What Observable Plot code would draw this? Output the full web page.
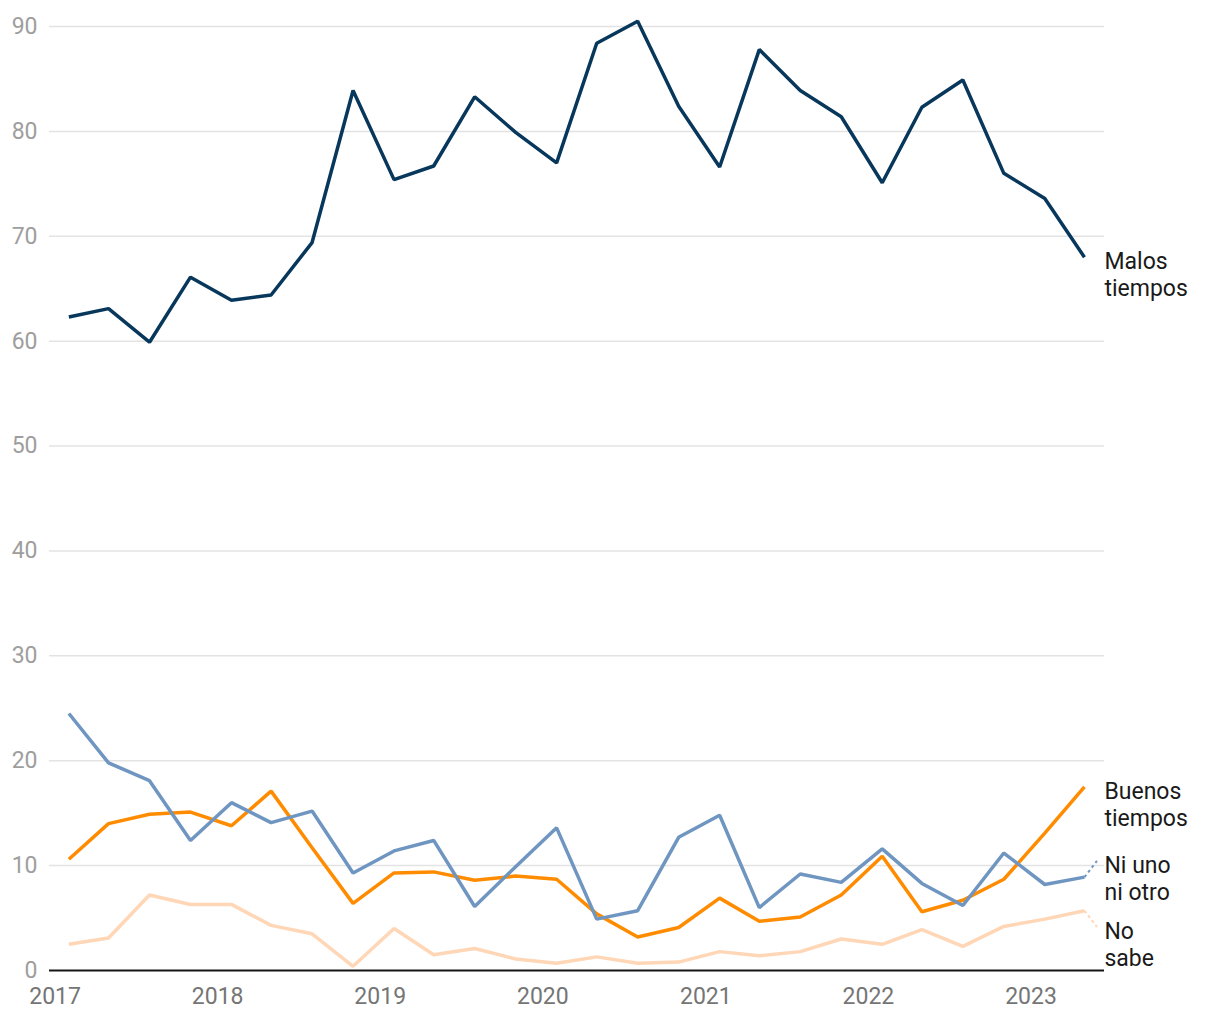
<!DOCTYPE html>
<html>
<head>
<meta charset="utf-8">
<script src="https://cdn.jsdelivr.net/npm/d3@7"></script>
<script src="https://cdn.jsdelivr.net/npm/@observablehq/plot@0.6"></script>
<style>
  html, body { margin: 0; padding: 0; background: #fff; }
  #chart svg { display: block; }
</style>
</head>
<body>
<div id="chart"></div>
<script>
// Fechas de las encuestas (trimestrales)
const fechas = [
  "2017-02-01","2017-05-01","2017-08-01","2017-11-01",
  "2018-02-01","2018-05-01","2018-08-01","2018-11-01",
  "2019-02-01","2019-05-01","2019-08-01","2019-11-01",
  "2020-02-01","2020-05-01","2020-08-01","2020-11-01",
  "2021-02-01","2021-05-01","2021-08-01","2021-11-01",
  "2022-02-01","2022-05-01","2022-08-01","2022-11-01",
  "2023-02-01","2023-05-01"
];

const malosTiempos = [62.3, 63.1, 59.9, 66.1, 63.9, 64.4, 69.4, 83.9, 75.4, 76.7, 83.3, 79.9, 77.0,
                      88.4, 90.5, 82.4, 76.6, 87.8, 83.9, 81.4, 75.1, 82.3, 84.9, 76.0, 73.6, 68.0];
const buenosTiempos = [10.6, 14.0, 14.9, 15.1, 13.8, 17.1, 11.7, 6.4, 9.3, 9.4, 8.6, 9.0, 8.7,
                       5.4, 3.2, 4.1, 6.9, 4.7, 5.1, 7.2, 10.9, 5.6, 6.7, 8.7, 13.1, 17.5];
const niUnoNiOtro = [24.5, 19.8, 18.1, 12.4, 16.0, 14.1, 15.2, 9.3, 11.4, 12.4, 6.1, 9.9, 13.6,
                     4.9, 5.7, 12.7, 14.8, 6.0, 9.2, 8.4, 11.6, 8.3, 6.2, 11.2, 8.2, 8.9];
const noSabe = [2.5, 3.1, 7.2, 6.3, 6.3, 4.3, 3.5, 0.4, 4.0, 1.5, 2.1, 1.1, 0.7,
                1.3, 0.7, 0.8, 1.8, 1.4, 1.8, 3.0, 2.5, 3.9, 2.3, 4.2, 4.9, 5.7];

// Orden de dibujo: de abajo hacia arriba
const nombres = ["No sabe", "Buenos tiempos", "Ni uno ni otro", "Malos tiempos"];
const etiquetas = ["No\nsabe", "Buenos\ntiempos", "Ni uno\nni otro", "Malos\ntiempos"];
const valoresPorSerie = [noSabe, buenosTiempos, niUnoNiOtro, malosTiempos];
const colores = ["#ffd6b6", "#ff8c00", "#6f95c1", "#08375c"];
const yTicks = [0, 10, 20, 30, 40, 50, 60, 70, 80, 90];

// Tabla larga
const filas = [];
nombres.forEach((n, s) => {
  valoresPorSerie[s].forEach((v, i) => {
    filas.push({ serie: n, fecha: new Date(fechas[i]), valor: v });
  });
});

const W = 1220, H = 1020;
const mTop = 26, mBottom = 50, mLeft = 49, mRight = 116;
const yDomain = [0, 90];
const xDomain = [new Date("2016-12-19T12:00:00Z"), new Date("2023-06-15T00:00:00Z")];

// Etiquetas finales con separación mínima
const yScale = Plot.scale({ y: { domain: yDomain, range: [H - mBottom, mTop] } });
const ultimaFecha = new Date(fechas[fechas.length - 1]);
const finales = nombres.map((n, s) => {
  const v = valoresPorSerie[s][valoresPorSerie[s].length - 1];
  return { serie: n, label: etiquetas[s], fecha: ultimaFecha, valor: v, py: yScale.apply(v), py0: yScale.apply(v) };
});
const orden = finales.slice().sort((a, b) => a.py - b.py);
const gapMin = 66;
for (let it = 0; it < 100; it++) {
  for (let k = 0; k < orden.length - 1; k++) {
    const a = orden[k], b = orden[k + 1];
    const d = b.py - a.py;
    if (d < gapMin) {
      const m = (gapMin - d) / 2;
      a.py -= m; b.py += m;
    }
  }
}
finales.forEach(f => { f.valorEtiqueta = yScale.invert(f.py); });
const conectores = finales
  .filter(f => Math.abs(f.py - f.py0) > 3)
  .map(f => ({ ...f, fecha2: new Date(f.fecha.getTime() + 28 * 864e5) }));

const chart = Plot.plot({
  width: W,
  height: H,
  marginTop: mTop,
  marginBottom: mBottom,
  marginLeft: mLeft,
  marginRight: mRight,
  style: { fontFamily: "Roboto, sans-serif", fontSize: "23px", background: "#fff", overflow: "visible" },
  x: { type: "utc", domain: xDomain },
  y: { domain: yDomain },
  color: { domain: nombres, range: colores },
  marks: [
    Plot.gridY(yTicks.filter(t => t > 0), { stroke: "#e3e3e3", strokeOpacity: 1, strokeWidth: 1.5 }),
    Plot.axisY(yTicks, { tickSize: 0, tickPadding: 12, color: "#9e9e9e", fontSize: 23, label: null }),
    Plot.axisX({ ticks: d3.utcYear.every(1), tickFormat: d3.utcFormat("%Y"), tickSize: 0, tickPadding: 17,
                 color: "#757575", fontSize: 23, label: null }),
    Plot.ruleY([0], { stroke: "#151515", strokeWidth: 2.2 }),
    Plot.lineY(filas, { x: "fecha", y: "valor", z: "serie", stroke: "serie",
                        strokeWidth: 3.5, strokeLinejoin: "miter", strokeLinecap: "butt" }),
    Plot.link(conectores, { x1: "fecha", y1: "valor", x2: "fecha2", y2: "valorEtiqueta",
                            stroke: "serie", strokeWidth: 2, strokeDasharray: "3,3" }),
    Plot.text(finales, { x: "fecha", y: "valorEtiqueta", text: "label", dx: 20, dy: -8,
                         lineAnchor: "top", textAnchor: "start", fill: "#1a1a1a",
                         fontSize: 23, lineHeight: 1.2 })
  ]
});

document.getElementById("chart").appendChild(chart);
</script>
</body>
</html>
